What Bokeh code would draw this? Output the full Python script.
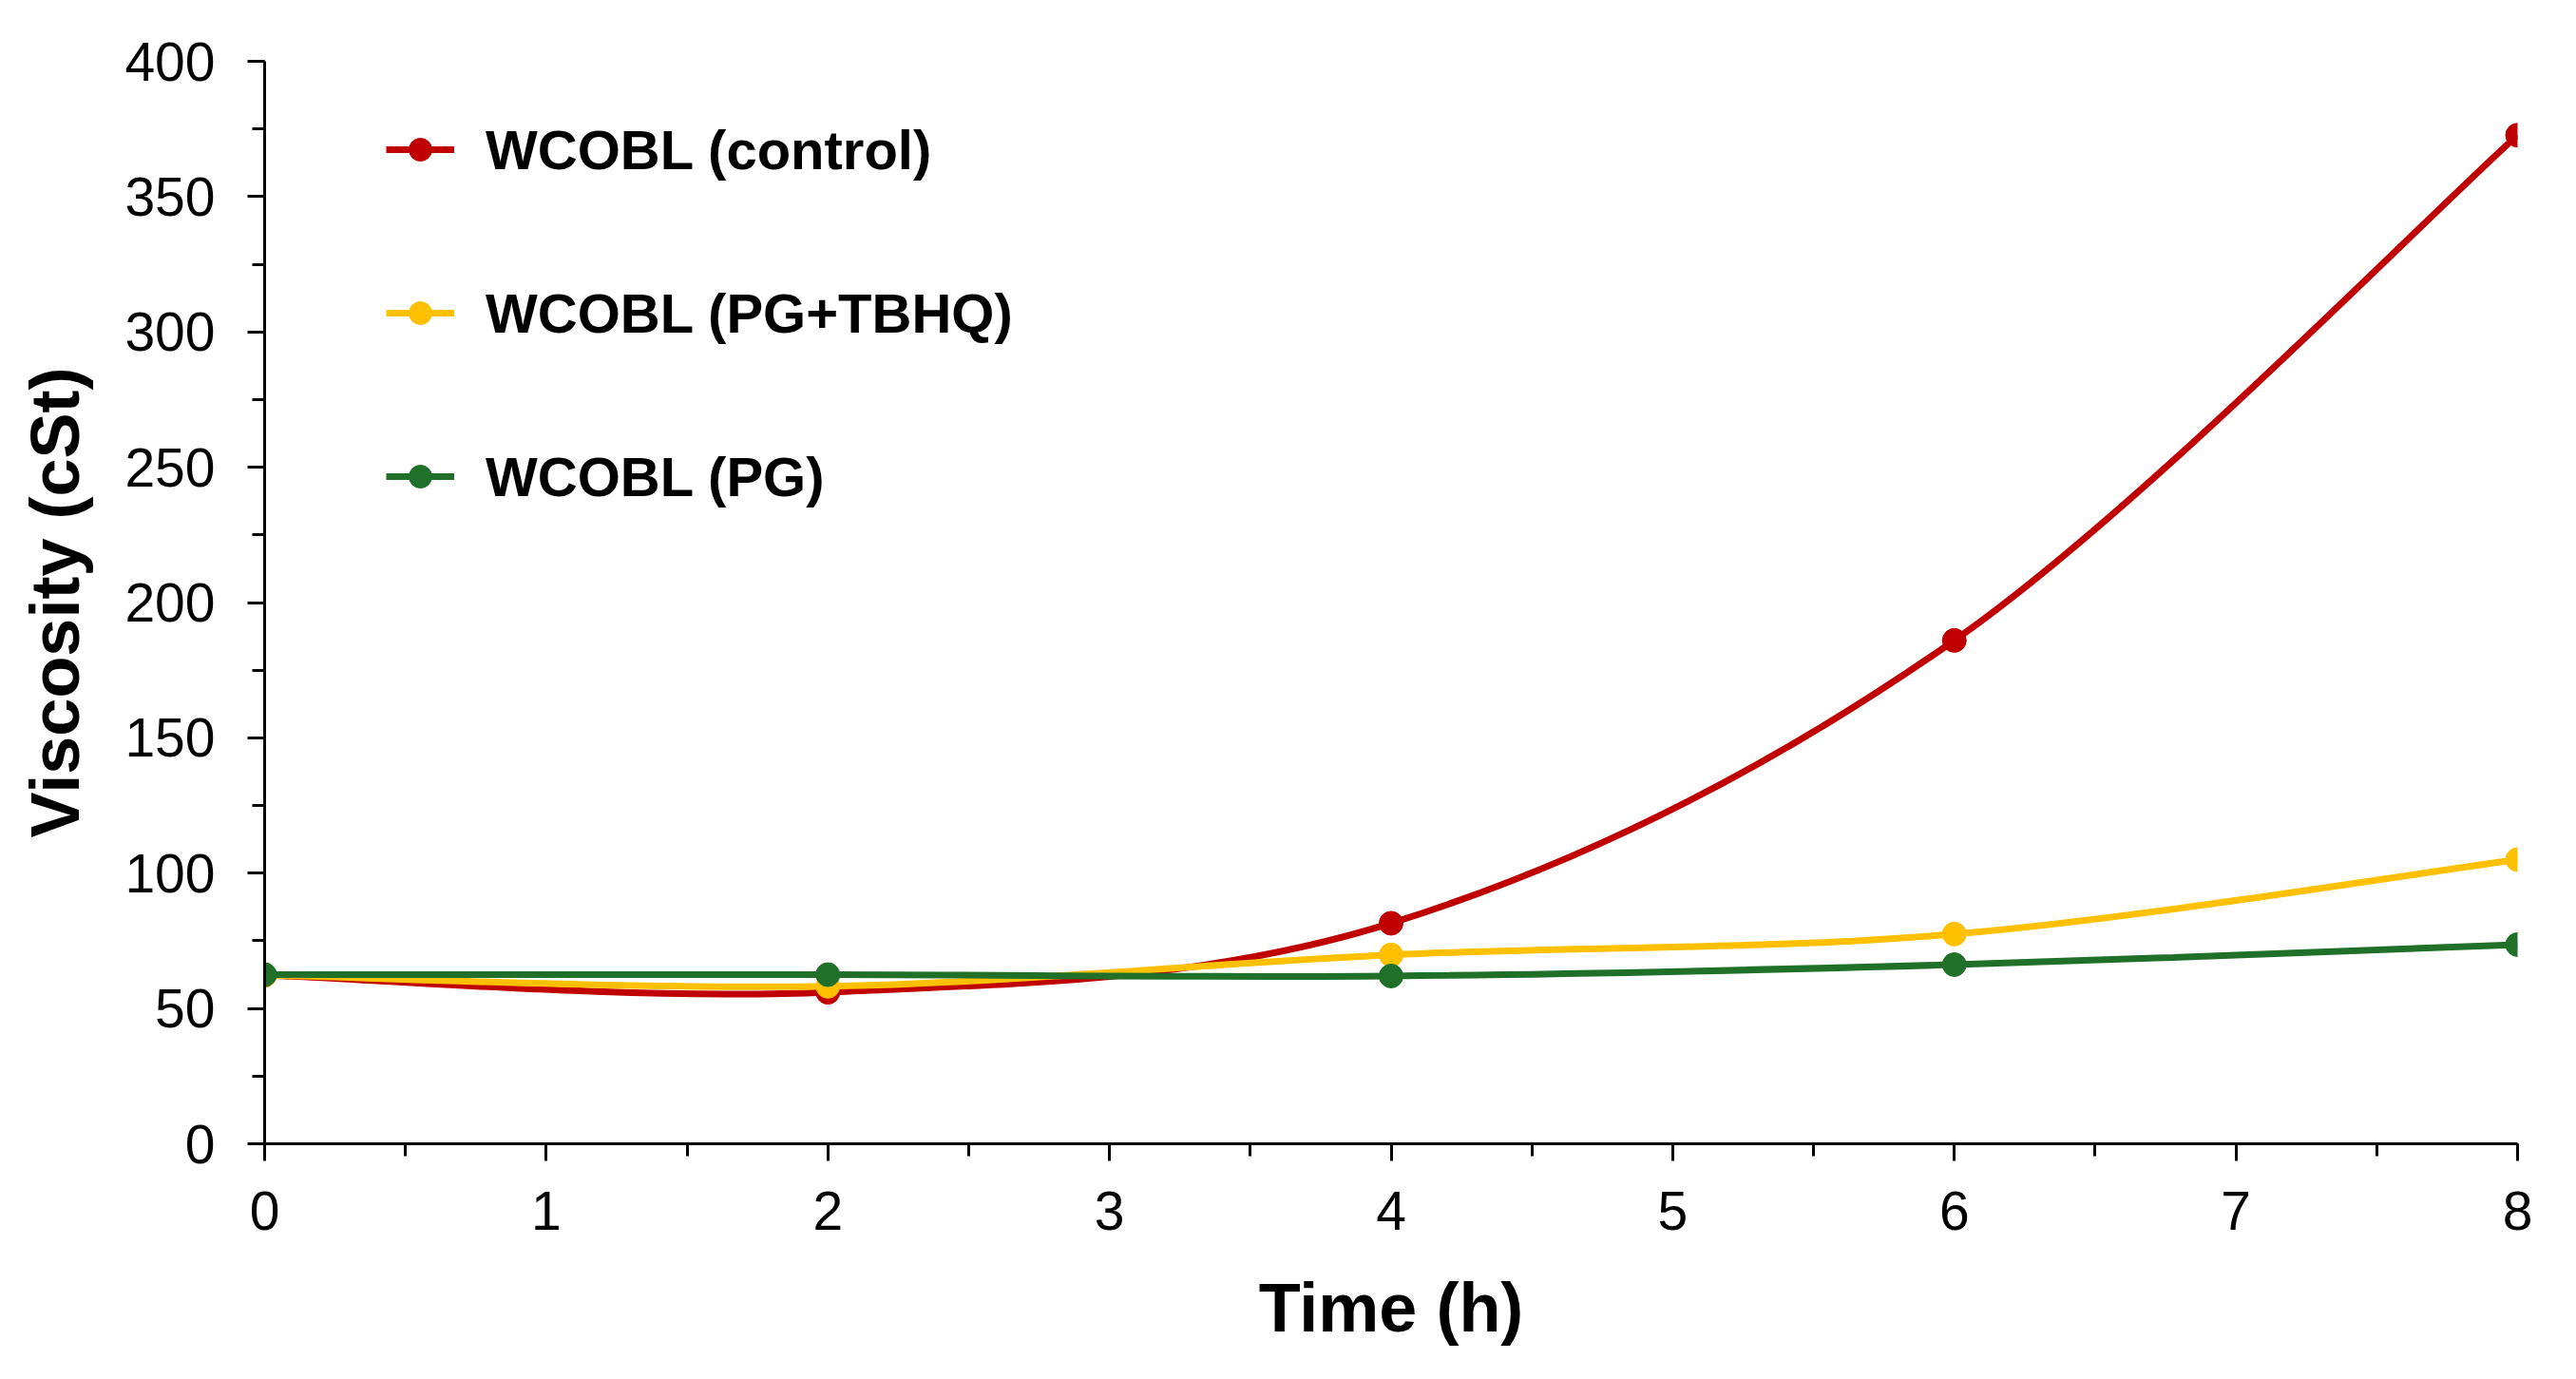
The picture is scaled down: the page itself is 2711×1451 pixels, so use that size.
import numpy as np
from bokeh.plotting import figure
from bokeh.models import SingleIntervalTicker, Legend, LegendItem, Range1d, ColumnDataSource
from bokeh.embed import file_html
from bokeh.resources import INLINE

# values
time_h = [0, 2, 4, 6, 8]
control = [62.3, 56.0, 81.5, 186.0, 372.7]
pg_tbhq = [62.3, 58.2, 69.8, 77.5, 105.0]
pg = [62.5, 62.5, 62.0, 66.2, 73.6]

series_names = ["WCOBL (control)", "WCOBL (PG+TBHQ)", "WCOBL (PG)"]
series_colors = ["#C00000", "#FFC000", "#20702A"]

FONT = "Liberation Sans"


def smooth_segments(xs, ys, k=1 / 6):
    # Bezier control points for a smoothed line through the data points
    x = np.asarray(xs, dtype=float)
    y = np.asarray(ys, dtype=float)
    xp = np.concatenate([[x[0]], x, [x[-1]]])
    yp = np.concatenate([[y[0]], y, [y[-1]]])
    n = len(x)
    seg = dict(x0=[], y0=[], x1=[], y1=[], cx0=[], cy0=[], cx1=[], cy1=[])
    for i in range(n - 1):
        seg["x0"].append(x[i])
        seg["y0"].append(y[i])
        seg["x1"].append(x[i + 1])
        seg["y1"].append(y[i + 1])
        seg["cx0"].append(x[i] + (xp[i + 2] - xp[i]) * k)
        seg["cy0"].append(y[i] + (yp[i + 2] - yp[i]) * k)
        seg["cx1"].append(x[i + 1] - (xp[i + 3] - xp[i + 1]) * k)
        seg["cy1"].append(y[i + 1] - (yp[i + 3] - yp[i + 1]) * k)
    return seg


p = figure(width=2695, height=1435, output_backend="svg", toolbar_location=None,
           x_range=Range1d(0, 8), y_range=Range1d(0, 400),
           min_border_left=278, min_border_right=46, min_border_top=64, min_border_bottom=232)
p.outline_line_color = None
p.xgrid.visible = False
p.ygrid.visible = False

items = []
for name, color, values in zip(series_names, series_colors, [control, pg_tbhq, pg]):
    src = ColumnDataSource(smooth_segments(time_h, values))
    bez = p.bezier(x0="x0", y0="y0", x1="x1", y1="y1", cx0="cx0", cy0="cy0", cx1="cx1", cy1="cy1",
                   source=src, line_color=color, line_width=7)
    dots = p.scatter(time_h, values, size=25, fill_color=color, line_color=color)
    items.append(LegendItem(label=name, renderers=[bez, dots]))

legend = Legend(items=items, location=(128, 667), orientation="vertical")
legend.border_line_color = None
legend.background_fill_alpha = 0
legend.padding = 10
legend.margin = 0
legend.spacing = 102
legend.label_height = 70
legend.glyph_height = 60
legend.glyph_width = 72
legend.label_standoff = 33
legend.label_text_font = FONT
legend.label_text_font_style = "bold"
legend.label_text_font_size = "58px"
legend.label_text_color = "black"
p.add_layout(legend)

p.xaxis.ticker = SingleIntervalTicker(interval=1, num_minor_ticks=2)
p.yaxis.ticker = SingleIntervalTicker(interval=50, num_minor_ticks=2)
p.xaxis.axis_label = "Time (h)"
p.yaxis.axis_label = "Viscosity (cSt)"

for ax in (p.xaxis, p.yaxis):
    ax.axis_line_color = "black"
    ax.axis_line_width = 3
    ax.major_tick_line_color = "black"
    ax.minor_tick_line_color = "black"
    ax.major_tick_line_width = 3
    ax.minor_tick_line_width = 3
    ax.major_tick_in = 0
    ax.major_tick_out = 18
    ax.minor_tick_in = 0
    ax.minor_tick_out = 13
    ax.major_label_text_font = FONT
    ax.major_label_text_font_size = "57px"
    ax.major_label_text_color = "black"
    ax.axis_label_text_font = FONT
    ax.axis_label_text_font_size = "72px"
    ax.axis_label_text_font_style = "bold"
    ax.axis_label_text_color = "black"

p.xaxis.major_label_standoff = 32
p.yaxis.major_label_standoff = 34
p.xaxis.axis_label_standoff = 39
p.yaxis.axis_label_standoff = 30

open("out.html", "w").write(file_html(p, INLINE))
